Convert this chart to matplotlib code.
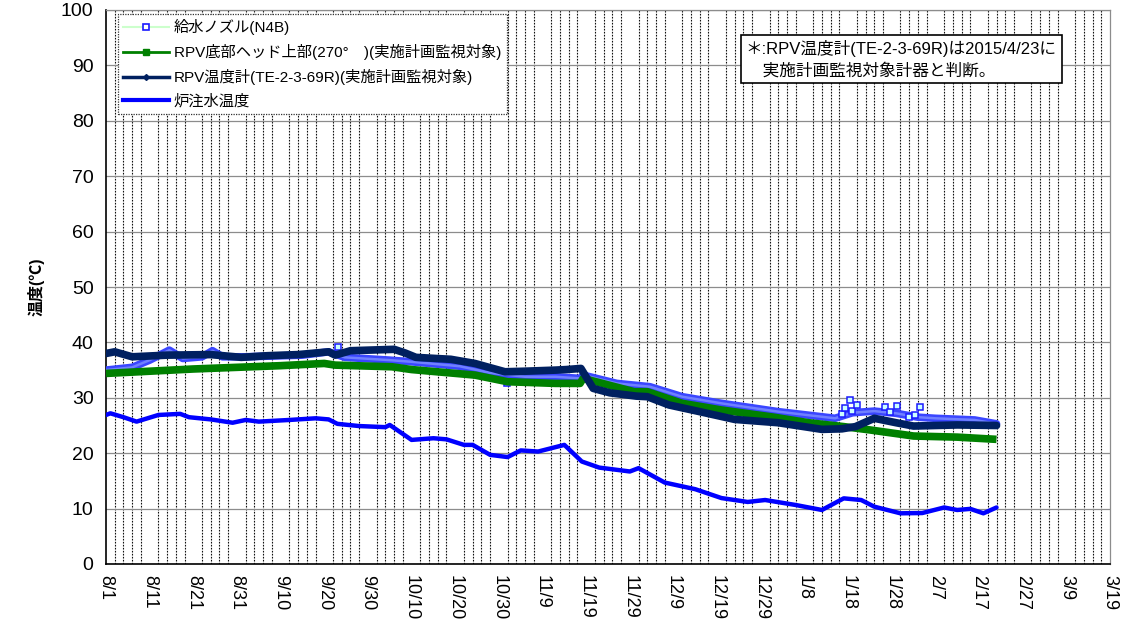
import numpy as np
import matplotlib
matplotlib.use("Agg")
import matplotlib.pyplot as plt
from matplotlib.lines import Line2D

plt.rcParams['font.family'] = ['Liberation Sans', 'Noto Sans CJK JP', 'DejaVu Sans']

# ---- data (day offset from 8/1, value in degC) ----
tick_labels = ["8/1", "8/11", "8/21", "8/31", "9/10", "9/20", "9/30", "10/10",
               "10/20", "10/30", "11/9", "11/19", "11/29", "12/9", "12/19",
               "12/29", "1/8", "1/18", "1/28", "2/7", "2/17", "2/27", "3/9", "3/19"]

n4b_days = [0, 6, 10, 14.5, 17.6, 22, 24.4, 26.7, 32, 45, 51, 54.7, 65, 70, 81, 88,
            96, 103, 108.6, 109.3, 117, 124.6, 132, 141, 154, 167, 171, 176, 181,
            186, 190, 199, 204]
n4b_vals = [35.0, 35.5, 36.8, 38.6, 37.1, 37.4, 38.5, 37.4, 37.4, 37.7, 38.3, 37.3,
            36.8, 36.5, 35.7, 34.5, 33.8, 33.8, 33.5, 34.1, 32.6, 32.0, 30.2, 29.0,
            27.5, 26.3, 27.3, 27.6, 27.2, 26.5, 26.3, 26.0, 25.3]
n4b_out_days = [53.2, 91.8, 168.6, 169.3, 170.5, 170.9, 172.0, 178.5, 179.7, 181.2,
                183.9, 185.4, 186.5]
n4b_out_vals = [39.2, 32.6, 27.1, 28.1, 29.6, 27.7, 28.7, 28.3, 27.5, 28.5,
                26.5, 26.9, 28.3]

grn_days = [0, 10, 20, 30, 40, 50, 52.5, 65.5, 70, 84.5, 92, 103, 108.6, 109.3, 121,
            124, 132, 141, 153, 161, 169, 175, 185, 195, 204]
grn_vals = [34.4, 34.8, 35.2, 35.5, 35.8, 36.2, 35.9, 35.6, 35.1, 34.1, 32.9, 32.6,
            32.6, 33.5, 31.1, 31.1, 29.0, 27.8, 26.5, 25.5, 24.8, 24.2, 23.1, 22.9, 22.5]

nav_days = [0, 2, 6, 14, 24, 31, 37, 44, 51, 52.5, 56, 66, 68.5, 71, 79, 84.5, 91.4,
            96, 103, 105.5, 108.8, 111.6, 115.4, 121.5, 124, 129, 136, 144, 154, 164,
            168.6, 171.7, 176, 181, 185, 195, 204]
nav_vals = [38.0, 38.3, 37.4, 37.7, 37.8, 37.3, 37.6, 37.8, 38.3, 37.7, 38.5, 38.75,
            38.1, 37.3, 36.95, 36.2, 34.7, 34.8, 35.0, 35.1, 35.3, 31.7, 30.9, 30.3,
            30.2, 28.7, 27.5, 26.1, 25.5, 24.3, 24.4, 24.8, 26.3, 25.5, 24.9, 25.1, 25.0]

inj_days = [0, 1, 4, 7, 12, 17, 19, 24, 29, 32, 35, 42, 48, 51, 53, 58, 64, 65, 70, 75,
            78, 82, 84, 88, 92, 95, 99, 102, 105, 109, 113, 120, 122, 128, 135, 141,
            147, 151, 158, 164, 169, 173, 176, 182, 187, 192, 195, 198, 201, 204]
inj_vals = [26.9, 27.2, 26.5, 25.7, 26.9, 27.1, 26.5, 26.1, 25.5, 26.0, 25.7, 26.0,
            26.3, 26.1, 25.3, 24.9, 24.7, 25.1, 22.4, 22.7, 22.5, 21.5, 21.5, 19.7,
            19.3, 20.5, 20.3, 20.9, 21.5, 18.5, 17.4, 16.7, 17.3, 14.7, 13.5, 11.9,
            11.2, 11.55, 10.65, 9.75, 11.85, 11.55, 10.35, 9.15, 9.2, 10.2, 9.75,
            9.95, 9.15, 10.2]

labels = ["給水ノズル(N4B)",
          "RPV底部ヘッド上部(270°　)(実施計画監視対象)",
          "RPV温度計(TE-2-3-69R)(実施計画監視対象)",
          "炉注水温度"]
note = "＊:RPV温度計(TE-2-3-69R)は2015/4/23に\n　実施計画監視対象計器と判断。"

# ---- colours ----
c_n4b_line = "#ccffcc"
c_n4b_mark = "#1a1aff"
c_grn = "#008000"
c_nav = "#002060"
c_inj = "#0000ff"

fig = plt.figure(figsize=(11.4, 6.24), dpi=100)
ax = fig.add_axes([106/1140, 1 - 564/624, 1004/1140, 554/624])

ax.set_xlim(0, 230)
ax.set_ylim(0, 100)

# grid
ax.set_yticks(np.arange(0, 101, 10))
ax.set_xticks(np.arange(0, 231, 10))
ax.set_xticks(np.arange(0, 231, 2), minor=True)
ax.grid(axis='y', which='major', color='#8c8c8c', lw=0.9, ls='-')
ax.grid(axis='x', which='minor', color='#111111', lw=0.8, ls=(0, (1.5, 1.2)))
ax.set_axisbelow(True)

# series
ax.plot(n4b_days, n4b_vals, color="#3a46ff", lw=5.5, solid_capstyle='round',
        solid_joinstyle='round', zorder=3)
ax.plot(n4b_days, n4b_vals, color="#7080ff", lw=1.8, zorder=3)
ax.plot(n4b_out_days, n4b_out_vals, ls='none', marker='s', ms=5,
        mfc='#ccffff', mec=c_n4b_mark, mew=1.1, zorder=3)
ax.plot(grn_days, grn_vals, color=c_grn, lw=5.5, solid_capstyle='butt',
        solid_joinstyle='round', zorder=4)
ax.plot(nav_days, nav_vals, color=c_nav, lw=5.5, solid_capstyle='round',
        solid_joinstyle='round', zorder=5)
ax.plot(inj_days, inj_vals, color=c_inj, lw=3.2, solid_capstyle='round',
        solid_joinstyle='round', zorder=6)

# axes styling
for s in ['top', 'right']:
    ax.spines[s].set_color('#8c8c8c')
    ax.spines[s].set_linewidth(0.9)
for s in ['left', 'bottom']:
    ax.spines[s].set_color('black')
    ax.spines[s].set_linewidth(1.2)

ax.set_xticklabels(tick_labels)
ax.tick_params(axis='x', which='both', length=0, pad=8, labelsize=13,
               labelrotation=-90)
for t in ax.get_xticklabels():
    t.set_va('top')
    t.set_ha('center')
ax.tick_params(axis='y', length=0, pad=9, labelsize=14)
ax.set_ylabel("温度(℃)", fontsize=11.5, fontweight='bold', labelpad=12)

# legend with proxies
handles = [
    Line2D([], [], color=c_n4b_line, lw=1.5, marker='s', ms=5, mfc='white',
           mec=c_n4b_mark, mew=1.2),
    Line2D([], [], color=c_grn, lw=2, marker='s', ms=4, mfc=c_grn, mec=c_grn),
    Line2D([], [], color=c_nav, lw=2.5, marker='D', ms=3, mfc=c_nav, mec=c_nav),
    Line2D([], [], color=c_inj, lw=3),
]
leg = ax.legend(handles, labels, loc='upper left', bbox_to_anchor=(0.012, 0.993),
                borderaxespad=0, fontsize=11, handlelength=3.0, handletextpad=0.3,
                labelspacing=0.58, borderpad=0.35, fancybox=False, framealpha=1,
                edgecolor='#333333')
leg.get_frame().set_linestyle((0, (1, 1)))
leg.get_frame().set_linewidth(0.9)
leg.set_zorder(10)

ax.text(0.637, 0.945, note, transform=ax.transAxes, fontsize=12, va='top',
        ha='left', linespacing=1.4, zorder=11,
        bbox=dict(boxstyle='square,pad=0.3', fc='white', ec='black', lw=1.2))

fig.savefig("out.png", dpi=100)
